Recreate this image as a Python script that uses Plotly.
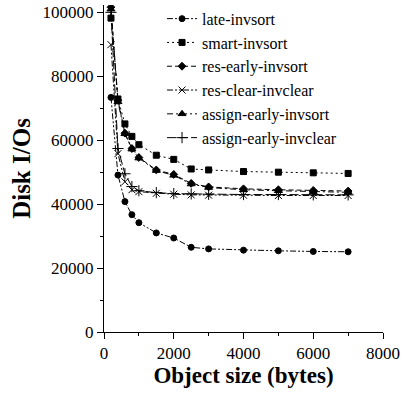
import plotly.graph_objects as go

sizes = [200, 400, 600, 800, 1000, 1500, 2000, 2500, 3000, 4000, 5000, 6000, 7000]

late_invsort = [73400, 49100, 40800, 36700, 34200, 31000, 29400, 26500, 26000, 25600, 25400, 25200, 25100]
smart_invsort = [98200, 72900, 65100, 61200, 58600, 55300, 54000, 51000, 50700, 50200, 50000, 49800, 49600]
res_early_invsort = [101600, 72500, 62200, 57400, 54600, 50700, 49300, 46500, 45400, 44800, 44500, 44300, 44100]
res_clear_invclear = [89900, 55800, 47000, 44500, 43900, 43400, 43100, 42900, 42800, 42800, 42700, 42700, 42700]
assign_early_invsort = [101000, 72000, 62000, 57200, 54400, 50500, 49000, 46300, 45200, 44500, 44200, 43900, 43700]
assign_early_invclear = [100000, 57400, 49500, 45500, 44200, 43600, 43300, 43200, 43100, 43000, 43000, 42900, 42900]

y_ticks = [0, 20000, 40000, 60000, 80000, 100000]
x_ticks = [0, 2000, 4000, 6000, 8000]

series = [
    ("late-invsort", late_invsort, "circle", "6px,2px,2px,2px,2px,2px", 6),
    ("smart-invsort", smart_invsort, "square", "2px,3px", 6),
    ("res-early-invsort", res_early_invsort, "diamond", "5px,3px", 6),
    ("res-clear-invclear", res_clear_invclear, "x-thin-open", "6px,2px,2px,2px,2px,2px", 7),
    ("assign-early-invsort", assign_early_invsort, "triangle-up", "6px,3px,2px,3px", 7),
    ("assign-early-invclear", assign_early_invclear, "cross-thin-open", "9px,3px", 8),
]

font_family = "Liberation Serif"

fig = go.Figure()
for name, vals, sym, dash, msize in series:
    fig.add_trace(go.Scatter(
        x=sizes, y=vals, name=name, mode="lines+markers",
        line=dict(color="black", width=1, dash=dash),
        marker=dict(symbol=sym, size=msize, color="black",
                    line=dict(color="black", width=1)),
    ))

fig.update_layout(
    width=412, height=393,
    margin=dict(l=104, r=29, t=2, b=61),
    paper_bgcolor="white", plot_bgcolor="white",
    font=dict(family=font_family, size=17, color="black"),
    showlegend=True,
    legend=dict(x=0.208, xanchor="left", y=1.01, yanchor="top",
                bgcolor="rgba(0,0,0,0)", borderwidth=0,
                font=dict(family=font_family, size=16, color="black"),
                tracegroupgap=0),
    xaxis=dict(range=[0, 8000], tickvals=x_ticks, tickformat="d",
               showline=True, linecolor="black", linewidth=1,
               ticks="outside", ticklen=6, tickcolor="black",
               minor=dict(dtick=1000, ticks="outside", ticklen=3, tickcolor="black"),
               showgrid=False, zeroline=False,
               tickfont=dict(family=font_family, size=17, color="black"),
               title=dict(text="<b>Object size (bytes)</b>",
                          font=dict(family=font_family, size=23), standoff=1)),
    yaxis=dict(range=[0, 102300], tickvals=y_ticks, tickformat="d",
               showline=True, linecolor="black", linewidth=1,
               ticks="outside", ticklen=6, tickcolor="black",
               minor=dict(dtick=10000, ticks="outside", ticklen=3, tickcolor="black"),
               showgrid=False, zeroline=False,
               tickfont=dict(family=font_family, size=17, color="black"),
               title=dict(text="<b>Disk I/Os</b>",
                          font=dict(family=font_family, size=25), standoff=4)),
)

fig.write_html("out.html")
